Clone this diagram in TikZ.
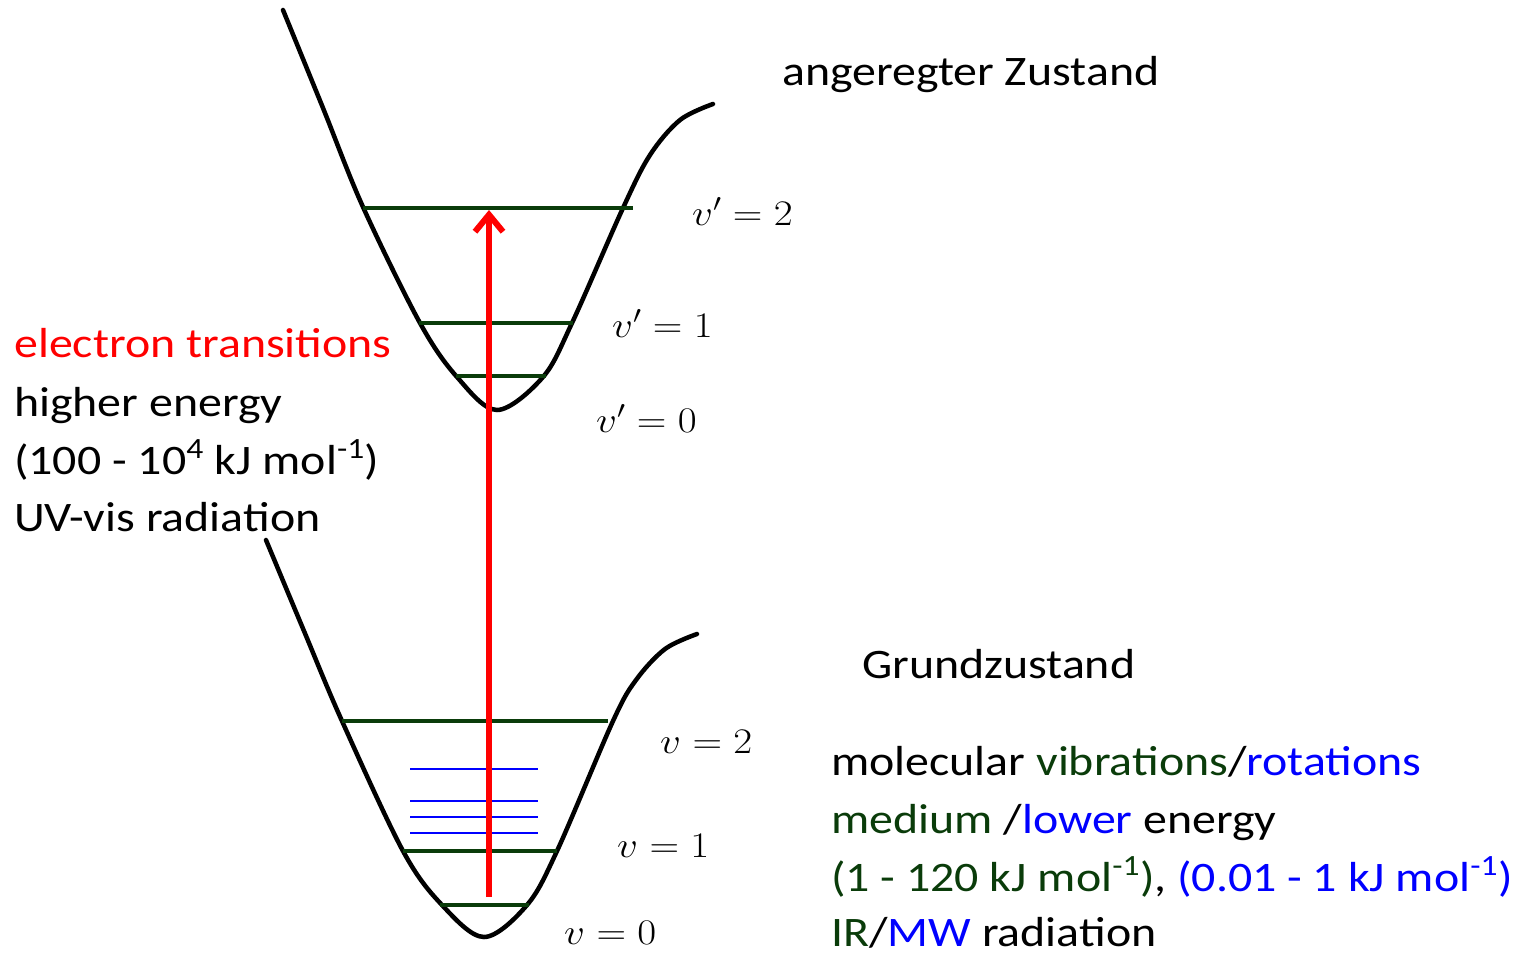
\documentclass[tikz,border=0pt]{standalone}
\RequirePackage{fix-cm}
\usepackage{fontspec}
\setmainfont{Carlito}[FakeStretch=1.14]
\usetikzlibrary{arrows.meta}
\definecolor{lvlgreen}{RGB}{10,60,10}
\definecolor{rotblue}{RGB}{0,0,255}
\definecolor{trred}{RGB}{255,0,0}
\newcommand{\lvllabel}[2]{\scalebox{1.14}[1]{$#1=#2$}}
\tikzset{
  txt/.style={anchor=base west, inner sep=0pt, font=\fontsize{42}{50}\selectfont},
  lbl/.style={anchor=base west, inner sep=0pt, font=\fontsize{36}{42}\selectfont},
  well/.style={line width=4.5pt, black, line cap=round},
  vib/.style={line width=3.5pt, lvlgreen},
  rot/.style={line width=2.6pt, rotblue},
  trans/.style={line width=5.5pt, trred, -{Straight Barb[length=17pt,width=28pt,line width=6pt]}}
}
\begin{document}
\begin{tikzpicture}[x=1pt,y=-1pt]
\useasboundingbox (0,0) rectangle (1518,954);
% left text
\node[txt, text=trred] (t1) at (14,357) {electron transitions};
\node[txt] (t2) at (14,416) {higher energy};
\node[txt] (t3) at (14,474) {(100 - 10\textsuperscript{4} kJ mol\textsuperscript{-1})};
\node[txt] (t4) at (14,531) {UV-vis radiation};
% state names
\node[txt] (exc) at (782,85) {angeregter Zustand};
\node[txt] (gnd) at (862,678) {Grundzustand};
% right text
\node[txt] (r1) at (831,775) {molecular \textcolor{lvlgreen}{vibrations}/\textcolor{rotblue}{rotations}};
\node[txt] (r2) at (831,833) {\textcolor{lvlgreen}{medium }/\textcolor{rotblue}{lower} energy};
\node[txt] (r3) at (831,891) {\textcolor{lvlgreen}{(1 - 120 kJ mol\textsuperscript{-1})}, \textcolor{rotblue}{(0.01 - 1 kJ mol\textsuperscript{-1})}};
\node[txt] (r4) at (831,946) {\textcolor{lvlgreen}{IR}/\textcolor{rotblue}{MW} radiation};
% level labels
\node[lbl] (u2) at (692,225) {\lvllabel{v'}{2}};
\node[lbl] (u1) at (612,337) {\lvllabel{v'}{1}};
\node[lbl] (u0) at (596,432) {\lvllabel{v'}{0}};
\node[lbl] (l2) at (660,753) {\lvllabel{v}{2}};
\node[lbl] (l1) at (617,857) {\lvllabel{v}{1}};
\node[lbl] (l0) at (564,944) {\lvllabel{v}{0}};
% upper potential well
\draw[well] plot[smooth, tension=0.55] coordinates {(283,10) (323,108) (363,207) (420,323) (457,377) (497,410) (543,377) (572,323) (623,208) (650,155) (680,120) (713,104)};
% lower potential well
\draw[well] plot[smooth, tension=0.55] coordinates {(266,540) (304,631) (342,721) (403,851) (442,905) (484,937) (527,905) (557,851) (613,721) (636,680) (665,649) (697,634)};
% upper vibrational levels
\draw[vib] (363,208) -- (633,208);
\draw[vib] (419,323) -- (573,323);
\draw[vib] (456,376) -- (546,376);
% lower vibrational levels
\draw[vib] (342,721) -- (608,721);
\draw[vib] (403,851) -- (557,851);
\draw[vib] (440,905) -- (529,905);
% rotational levels
\draw[rot] (410,769) -- (538,769);
\draw[rot] (410,801) -- (538,801);
\draw[rot] (410,817) -- (538,817);
\draw[rot] (410,833) -- (538,833);
% transition arrow
\coordinate (a0) at (489,897);
\coordinate (a1) at (489,210);
\draw[trans] (a0) -- (a1);
\end{tikzpicture}
\end{document}
